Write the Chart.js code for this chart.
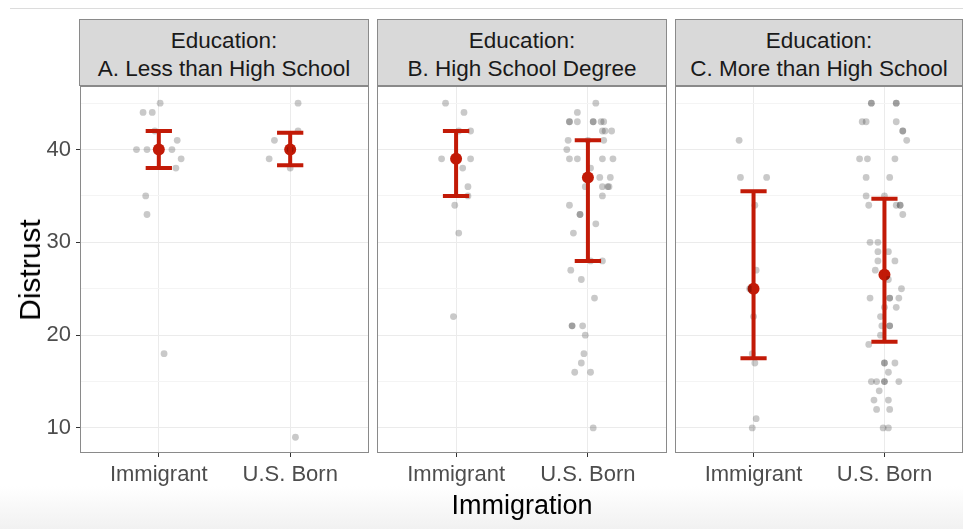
<!DOCTYPE html>
<html>
<head>
<meta charset="utf-8">
<script src="https://cdn.jsdelivr.net/npm/chart.js@4.4.1/dist/chart.umd.min.js"></script>
<style>
  body { margin: 0; width: 963px; height: 529px; overflow: hidden; background: #fff; position: relative;
         font-family: "Liberation Sans", Arial, sans-serif; }
  .topline { position: absolute; left: 10px; right: 0; top: 8px; height: 1px; background: #dcdcdc; }
  .fade { position: absolute; left: 0; right: 0; top: 486px; bottom: 0;
          background: linear-gradient(#ffffff, #f1f1f1); }
  .strip { position: absolute; top: 19px; height: 67px; box-sizing: border-box; background: #d9d9d9;
           border: 1px solid #8a8a8a; color: #1a1a1a; font-size: 22.5px; line-height: 28px;
           text-align: center; padding-top: 7px; }
  .title { position: absolute; color: #000; font-size: 27px; white-space: nowrap; }
  canvas { position: absolute; top: 86px; }
</style>
</head>
<body>
<div class="topline"></div>
<div class="fade"></div>
<div class="strip" id="stripA" style="left:79px;width:290px"></div>
<div class="strip" id="stripB" style="left:377px;width:290px"></div>
<div class="strip" id="stripC" style="left:675px;width:288px"></div>
<canvas id="panelA" width="369" height="407" style="left:0"></canvas>
<canvas id="panelB" width="290" height="407" style="left:377px"></canvas>
<canvas id="panelC" width="288" height="407" style="left:675px"></canvas>
<div class="title" id="ytitle" style="left:30px;top:270px;font-size:30px;transform:translate(-50%,-50%) rotate(-90deg)"></div>
<div class="title" id="xtitle" style="left:522px;top:505px;transform:translate(-50%,-50%)"></div>
<script>
// facets and categories
const facetTitles = [
  ['Education:', 'A. Less than High School'],
  ['Education:', 'B. High School Degree'],
  ['Education:', 'C. More than High School']
];
const categories = ['Immigrant', 'U.S. Born'];
const yTitle = 'Distrust';
const xTitle = 'Immigration';
const yTicks = [10, 15, 20, 25, 30, 35, 40, 45];

// raw responses (jitter = horizontal offset, in category units)
const immA = [45, 44, 44, 42, 41, 40, 40, 40, 39, 38, 35, 33, 18];
const immAJitter = [0.01, -0.12, -0.05, -0.03, 0.14, -0.17, -0.09, 0.10, 0.17, 0.13, -0.10, -0.09, 0.04];
const usA = [45, 42, 41, 40, 39, 38, 9];
const usAJitter = [0.06, 0.06, -0.12, 0.0, -0.16, 0.0, 0.04];

const immB = [45, 44, 42, 42, 39, 39, 38, 36, 35, 34, 31, 22];
const immBJitter = [-0.08, 0.06, 0.11, 0.02, -0.11, 0.11, 0.05, 0.09, 0.09, -0.01, 0.02, -0.02];
const usB = [45, 44, 43, 43, 43, 43, 43, 43, 43, 42, 42, 42, 41, 41, 41, 40, 39, 39, 39, 39, 38, 37, 37,
             36, 36, 36, 36, 35, 34, 33, 33, 32, 31, 28, 28, 27, 26, 24, 21, 21, 21, 20, 18, 17, 16, 16, 10];
const usBJitter = [0.06, -0.08, -0.14, -0.14, -0.08, 0.04, 0.04, 0.10, 0.12, 0.13, 0.18, 0.11, -0.15, 0.12, 0.0,
                   -0.16, -0.14, -0.08, 0.11, 0.19, 0.02, 0.09, 0.17, -0.02, 0.11, 0.15, 0.16, 0.11, -0.14,
                   -0.06, -0.06, 0.06, -0.11, 0.02, 0.11, -0.13, -0.05, 0.05, -0.12, -0.12, -0.04, -0.02,
                   -0.03, -0.05, -0.10, 0.02, 0.04];

const immC = [41, 37, 37, 34, 27, 25, 22, 18, 17, 11, 10];
const immCJitter = [-0.11, -0.10, 0.10, 0.01, 0.02, -0.03, 0.0, -0.01, 0.01, 0.02, -0.01];
const usC = [45, 45, 45, 45, 43, 43, 43, 42, 42, 41, 39, 39, 39, 37, 37, 35, 35, 34, 34, 34, 34, 33,
             30, 30, 29, 29, 28, 28, 27, 26, 25, 24, 24, 24, 24, 23, 23, 22, 21, 21, 21, 20, 19,
             17, 17, 17, 16, 15, 15, 15, 15, 15, 14, 13, 13, 12, 12, 10, 10];
const usCJitter = [-0.10, -0.10, 0.09, 0.09, -0.17, -0.14, 0.09, 0.14, 0.14, 0.17, -0.19, -0.13, 0.08,
                   -0.14, 0.04, -0.14, 0.0, -0.12, 0.09, 0.12, 0.12, 0.14, -0.11, -0.05, -0.05, 0.03,
                   -0.05, 0.08, -0.07, 0.03, 0.13, -0.11, 0.04, 0.04, 0.11, 0.09, 0.0, -0.03, -0.02,
                   0.04, 0.04, -0.03, -0.12, 0.0, 0.0, 0.08, 0.03, -0.10, -0.06, 0.0, 0.0, 0.11, -0.04,
                   -0.08, 0.03, -0.06, 0.04, -0.01, 0.03];

// group means and interval ends [Immigrant, U.S. Born]
const meanA = [40, 40],   lowA = [38, 38.3],   highA = [42, 41.8];
const meanB = [39, 37],   lowB = [35, 28],     highB = [42, 41];
const meanC = [25, 26.5], lowC = [17.5, 19.3], highC = [35.5, 34.7];

const RED = '#c21a07';
const DOT = 'rgba(0,0,0,0.21)';
const FONT = '"Liberation Sans", Arial, sans-serif';

const errorBars = {
  id: 'errorBars',
  afterDatasetsDraw(chart, args, opts) {
    const { ctx, scales: { x, y } } = chart;
    ctx.save();
    ctx.strokeStyle = RED;
    ctx.lineWidth = 4;
    opts.low.forEach((lo, i) => {
      const cx = x.getPixelForValue(i + 1);
      const x0 = x.getPixelForValue(i + 1 - 0.1);
      const x1 = x.getPixelForValue(i + 1 + 0.1);
      const yl = y.getPixelForValue(lo);
      const yh = y.getPixelForValue(opts.high[i]);
      ctx.beginPath();
      ctx.moveTo(cx, yl); ctx.lineTo(cx, yh);
      ctx.moveTo(x0, yl); ctx.lineTo(x1, yl);
      ctx.moveTo(x0, yh); ctx.lineTo(x1, yh);
      ctx.stroke();
    });
    ctx.restore();
  }
};

const panelBorder = {
  id: 'panelBorder',
  afterDraw(chart) {
    const { ctx, chartArea: a } = chart;
    ctx.save();
    ctx.strokeStyle = '#8a8a8a';
    ctx.lineWidth = 1;
    ctx.strokeRect(a.left + 0.5, a.top + 0.5, a.right - a.left - 1, a.bottom - a.top - 1);
    ctx.restore();
  }
};

function jittered(values, jitter, pos) {
  return values.map((v, i) => ({ x: pos + jitter[i], y: v }));
}

function makePanel(id, imm, immJ, us, usJ, mean, low, high, showY) {
  return new Chart(document.getElementById(id), {
    type: 'scatter',
    data: {
      datasets: [
        { data: jittered(imm, immJ, 1), backgroundColor: DOT, borderWidth: 0, pointRadius: 3.4 },
        { data: jittered(us, usJ, 2), backgroundColor: DOT, borderWidth: 0, pointRadius: 3.4 },
        { data: mean.map((m, i) => ({ x: i + 1, y: m })), backgroundColor: RED, borderWidth: 0, pointRadius: 6 }
      ]
    },
    options: {
      responsive: false,
      animation: false,
      layout: { padding: 0, autoPadding: false },
      plugins: {
        legend: { display: false },
        tooltip: { enabled: false },
        errorBars: { low: low, high: high }
      },
      scales: {
        x: {
          type: 'linear', min: 0.4, max: 2.6,
          afterBuildTicks: s => { s.ticks = categories.map((c, i) => ({ value: i + 1 })); },
          afterFit: s => { s.height = 40; s.paddingLeft = 0; s.paddingRight = 0; },
          grid: { color: '#ebebeb', tickLength: 4, tickColor: '#333' },
          border: { display: false },
          ticks: { color: '#4d4d4d', font: { size: 22, family: FONT }, padding: 5, maxRotation: 0,
                   autoSkip: false, callback: v => categories[v - 1] }
        },
        y: {
          min: 7.3, max: 46.85,
          afterBuildTicks: s => { s.ticks = yTicks.map(v => ({ value: v })); },
          afterFit: s => { s.width = showY ? 80 : 0; s.paddingTop = 0; s.paddingBottom = 0; },
          grid: {
            color: c => c.tick.value % 10 === 0 ? '#ebebeb' : '#f4f4f4',
            drawTicks: showY, tickLength: 4,
            tickColor: c => c.tick.value % 10 === 0 ? '#333' : 'rgba(0,0,0,0)'
          },
          border: { display: false },
          ticks: { display: showY, color: '#4d4d4d', font: { size: 22, family: FONT }, padding: 5,
                   callback: v => v % 10 === 0 ? v : '' }
        }
      }
    },
    plugins: [errorBars, panelBorder]
  });
}

['stripA', 'stripB', 'stripC'].forEach((id, i) => {
  document.getElementById(id).innerHTML = facetTitles[i].join('<br>');
});
document.getElementById('ytitle').textContent = yTitle;
document.getElementById('xtitle').textContent = xTitle;

makePanel('panelA', immA, immAJitter, usA, usAJitter, meanA, lowA, highA, true);
makePanel('panelB', immB, immBJitter, usB, usBJitter, meanB, lowB, highB, false);
makePanel('panelC', immC, immCJitter, usC, usCJitter, meanC, lowC, highC, false);
</script>
</body>
</html>
